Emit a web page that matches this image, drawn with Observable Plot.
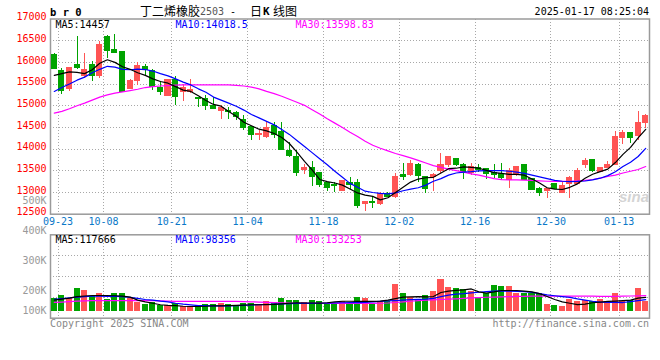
<!DOCTYPE html>
<html><head><meta charset="utf-8">
<script src="https://cdn.jsdelivr.net/npm/d3@7"></script>
<script src="https://cdn.jsdelivr.net/npm/@observablehq/plot@0.6"></script>
<style>
body{margin:0;background:#fff;}
#chart{position:relative;width:660px;height:360px;overflow:hidden;background:#fff;}
#chart svg{position:absolute;left:0;top:0;}
.t{position:absolute;white-space:nowrap;line-height:14px;font-family:"DejaVu Sans Mono",monospace;font-size:10px;}
</style></head><body><div id="chart"></div>
<script>
// ---- data ----
const dates = ["09-20","09-23","09-24","09-25","09-26","09-27","09-30",
"10-08","10-09","10-10","10-11","10-14","10-15","10-16","10-17","10-18","10-21","10-22","10-23","10-24","10-25","10-28","10-29","10-30","10-31",
"11-01","11-04","11-05","11-06","11-07","11-08","11-11","11-12","11-13","11-14","11-15","11-18","11-19","11-20","11-21","11-22","11-25","11-26","11-27","11-28","11-29",
"12-02","12-03","12-04","12-05","12-06","12-09","12-10","12-11","12-12","12-13","12-16","12-17","12-18","12-19","12-20","12-23","12-24","12-25","12-26","12-27","12-30","12-31",
"01-02","01-03","01-06","01-07","01-08","01-09","01-10","01-13","01-14","01-15","01-16"];
const tickDates = ["09-23","10-08","10-21","11-04","11-18","12-02","12-16","12-30","01-13"];
const open = [16175,15810,15387,15946,15678,15939,15678,16590,16283,16237,
15387,15579,15900,15809,15410,15234,15591,15308,15323,15185,
15154,14986,14879,14871,14825,14672,14511,14327,14281,14530,
14404,13967,13829,13508,13569,13447,13224,13170,13040,13209,
13209,12726,12787,12742,12956,12895,13393,13393,13638,13355,
13355,13485,13645,13776,13645,13447,13569,13531,13447,13416,
13293,13408,13638,13300,13086,13033,13201,12988,13186,13201,
13623,13753,13469,13561,13645,14266,14365,14297,14595];
const high = [16200,15850,15877,16590,16199,16015,16490,16610,16651,16250,
15595,16000,15962,15847,15563,15607,15675,15499,15614,15190,
15246,15193,15016,14963,14863,14771,14527,14427,14633,14618,
14618,14143,13967,13645,13722,13460,13240,13239,13278,13339,
13293,12800,12879,13010,13010,13431,13661,13736,13661,13370,
13431,13906,13840,13792,13661,13661,13645,13561,13645,13661,
13546,13600,13650,13330,13125,13100,13215,13240,13370,13546,
13792,13770,13580,13722,14418,14441,14375,14879,14795];
const low = [15830,15250,15326,15831,15617,15556,15617,16092,16210,15295,
15365,15464,15709,15349,15234,15220,15001,15093,15292,14955,
14886,14909,14679,14672,14656,14419,14189,14197,14235,14250,
13980,13799,13377,13415,13140,13117,13033,13010,13025,13071,
12627,12565,12642,12703,12880,12856,13278,13380,13239,12971,
13025,13431,13584,13607,13301,13393,13469,13301,13331,13278,
13086,13377,13290,13050,12918,12860,13060,12975,12857,13190,
13546,13470,13450,13545,13630,14098,14120,14197,14480];
const close = [15845,15350,15862,15870,15824,15694,16398,16268,16222,15326,
15571,15923,15831,15426,15326,15602,15193,15400,15361,15147,
14986,14924,14940,14848,14733,14496,14327,14350,14480,14330,
13990,13852,13454,13562,13355,13163,13110,13140,13255,13178,
12680,12787,12757,12956,12887,13347,13355,13652,13370,13086,
13408,13623,13822,13623,13454,13584,13508,13416,13393,13339,
13492,13584,13293,13065,12988,13086,13071,13147,13331,13485,
13722,13485,13569,13623,14274,14365,14258,14603,14772];
const ma5 = [15700,15740,15780,15770,15740,15830,15980,16060,16000,15900,
15840,15760,15700,15620,15560,15520,15440,15360,15330,15230,
15120,15030,14990,14870,14760,14620,14540,14460,14420,14360,
14270,14130,13930,13720,13520,13300,13250,13220,13170,13080,
12990,12940,12910,12830,12880,13000,13120,13240,13310,13340,
13350,13450,13550,13560,13590,13580,13560,13510,13460,13440,
13420,13420,13400,13310,13220,13110,13080,13070,13120,13200,
13330,13420,13480,13540,13690,13880,14040,14260,14457];
const ma10 = [15330,15420,15500,15590,15660,15760,15840,15910,15890,15840,
15830,15845,15835,15800,15740,15690,15620,15545,15480,15390,
15310,15200,15130,15060,14990,14900,14800,14720,14640,14560,
14450,14340,14200,14060,13920,13780,13640,13490,13350,13210,
13120,13030,13000,12980,12970,12990,13040,13080,13110,13170,
13260,13320,13400,13450,13470,13480,13500,13505,13505,13505,
13490,13470,13440,13400,13360,13320,13280,13260,13250,13255,
13265,13290,13330,13390,13480,13600,13700,13830,14018];
const ma30 = [14830,14870,14930,15000,15060,15130,15200,15250,15290,15320,
15350,15380,15420,15440,15455,15465,15475,15483,15483,15483,
15483,15483,15483,15480,15470,15455,15430,15390,15330,15280,
15220,15150,15080,15010,14910,14810,14700,14600,14500,14390,
14290,14180,14090,14020,13960,13900,13850,13800,13740,13680,
13620,13580,13540,13505,13470,13430,13400,13360,13320,13295,
13290,13290,13285,13280,13270,13260,13255,13255,13260,13270,
13280,13300,13330,13370,13400,13450,13490,13530,13599];
const volume = [111,134,111,197,177,128,151,100,151,151,
111,77,57,71,51,46,66,40,40,51,
57,57,66,57,51,66,66,57,83,71,
111,94,94,71,94,83,63,57,83,57,
120,108,57,80,80,228,151,120,103,134,
168,271,202,194,182,168,120,151,219,211,
211,151,151,151,151,57,48,40,100,83,
94,83,100,83,151,83,91,197,85].map(v => v * 1000);
const vma5 = [95,103,112,125,130,134,134,134,132,128,
120,95,80,68,55,50,47,42,40,40,
42,45,46,48,50,52,55,55,56,58,
63,68,71,70,70,69,72,80,85,85,
83,83,84,86,95,108,120,122,125,123,
125,160,172,178,182,190,165,155,165,177,
177,177,172,165,150,125,100,80,68,56,
60,72,78,83,86,90,95,111,118].map(v => v * 1000);
const vma10 = [102,108,114,120,124,128,128,127,126,125,
118,110,100,94,86,80,68,60,54,48,
47,46,46,46,47,50,53,55,57,60,
62,64,66,67,67,68,69,71,72,73,
74,76,80,84,88,91,95,98,101,103,
110,125,138,145,150,157,162,168,172,174,
172,170,168,160,150,140,132,125,118,105,
95,85,78,76,75,74,82,91,98].map(v => v * 1000);
const vma30 = [75,78,82,86,88,90,90,90,90,90,
90,90,90,90,88,86,84,84,84,84,
84,84,84,84,84,82,80,78,76,74,
72,70,68,68,68,68,67,66,66,66,
66,66,67,68,70,74,80,85,90,94,
97,100,103,106,110,113,116,119,121,123,
125,126,127,128,128,128,128,128,128,128,
128,128,127,127,127,128,130,131,133].map(v => v * 1000);
const priceTicks = [12500,13000,13500,14000,14500,15000,15500,16000,16500,17000];
const volTickLabels = ["100K","200K","300K","400K","500K"];
const volTickValues = [100000,200000,300000,400000,500000];
const priceMaLabels = ["MA5:14457","MA10:14018.5","MA30:13598.83"];
const volMaLabels = ["MA5:117666","MA10:98356","MA30:133253"];
const titleParts = {name:"丁二烯橡胶", code:"2503", sep:"-", kind1:"日", kind2:"K", kind3:"线图"};
const stamp = "2025-01-17 08:25:04";
const symbol = "b r 0";

// ---- styles ----
const MONO = "'DejaVu Sans Mono','Liberation Mono',monospace";
const RED = "#ff5454", GREEN = "#00a300", GRID = "#a8a8a8", AXIS = "#9a9a9a";
const MA_COLORS = ["#000000", "#0000ff", "#ff00ff"];
const bars = dates.map((d, i) => ({i, o: open[i], h: high[i], l: low[i], c: close[i], v: volume[i], up: close[i] >= open[i]}));
const tickIdx = tickDates.map(d => dates.indexOf(d) - 0.5);
const xDomain = [-0.5, dates.length - 0.5];
const half = 0.4;
const colorOf = d => d.up ? RED : GREEN;
const dotted = {stroke: GRID, strokeOpacity: 1, strokeDasharray: "1,2", shapeRendering: "crispEdges"};
const idx = dates.map((d, i) => i);

const chart = document.getElementById("chart");

// price panel
const price = Plot.plot({
  width: 660, height: 360,
  marginLeft: 50, marginRight: 11, marginTop: 18.5, marginBottom: 146.3,
  style: {background: "transparent", fontFamily: MONO, fontSize: "10px"},
  x: {domain: xDomain, axis: null},
  y: {domain: [12500, 17000], axis: null},
  marks: [
    Plot.gridY(priceTicks.slice(1, -1), dotted),
    Plot.gridX(tickIdx, dotted),
    Plot.frame({stroke: AXIS, strokeWidth: 1.5}),
    Plot.ruleX(bars, {x: "i", y1: "l", y2: "h", stroke: colorOf, strokeWidth: 1, shapeRendering: "crispEdges"}),
    Plot.rect(bars, {x1: d => d.i - half, x2: d => d.i + half, y1: "o", y2: "c", fill: colorOf, insetTop: -0.5, insetBottom: -0.5, shapeRendering: "crispEdges"}),
    Plot.line(idx, {x: i => i, y: i => ma30[i], stroke: MA_COLORS[2], strokeWidth: 1.2}),
    Plot.line(idx, {x: i => i, y: i => ma10[i], stroke: MA_COLORS[1], strokeWidth: 1.2}),
    Plot.line(idx, {x: i => i, y: i => ma5[i], stroke: MA_COLORS[0], strokeWidth: 1.2}),
    Plot.axisY(priceTicks, {tickSize: 0, tickPadding: 4, tickFormat: d => String(d), fill: "#ff0000", dy: -2, label: null, fontSize: 10}),
    Plot.axisX(tickIdx, {tickSize: 0, tickPadding: 4, tickFormat: t => dates[Math.round(t + 0.5)], fill: "#0a78c8", label: null, fontSize: 10}),
    ...priceMaLabels.map((s, k) => Plot.text([s], {frameAnchor: "top-left", dx: 5 + 120 * k, dy: 6, text: d => d, textAnchor: "start", lineAnchor: "middle", fill: MA_COLORS[k], fontSize: 10}))
  ]
});

// volume panel
const volDomain = [-60000, 653000];
const volGrid = [1, 2, 3].map(k => volDomain[0] + (volDomain[1] - volDomain[0]) * k / 4);
const vol = Plot.plot({
  width: 660, height: 360,
  marginLeft: 50, marginRight: 11, marginTop: 234.3, marginBottom: 42.3,
  style: {background: "transparent", fontFamily: MONO, fontSize: "10px"},
  x: {domain: xDomain, axis: null},
  y: {domain: volDomain, axis: null},
  marks: [
    Plot.gridY(volGrid, dotted),
    Plot.gridX(tickIdx, dotted),
    Plot.frame({stroke: AXIS, strokeWidth: 1.5}),
    Plot.rect(bars, {x1: d => d.i - half, x2: d => d.i + half, y1: 0, y2: "v", fill: colorOf, shapeRendering: "crispEdges"}),
    Plot.line(idx, {x: i => i, y: i => vma30[i], stroke: MA_COLORS[2], strokeWidth: 1.2}),
    Plot.line(idx, {x: i => i, y: i => vma10[i], stroke: MA_COLORS[1], strokeWidth: 1.2}),
    Plot.line(idx, {x: i => i, y: i => vma5[i], stroke: MA_COLORS[0], strokeWidth: 1.2}),
    ...volMaLabels.map((s, k) => Plot.text([s], {frameAnchor: "top-left", dx: 5 + 120 * k, dy: 4.5, text: d => d, textAnchor: "start", lineAnchor: "middle", fill: MA_COLORS[k], fontSize: 10}))
  ]
});

// volume axis labels: Sina spaces them ~30px per 100K and clamps the lowest one
const volAxis = Plot.plot({
  width: 660, height: 360, marginLeft: 50, marginRight: 11,
  style: {background: "transparent", fontFamily: MONO, fontSize: "10px"},
  x: {domain: [0, 1], axis: null},
  y: {domain: [132850, 500000], range: [310, 200.7], clamp: true, axis: null},
  marks: [
    Plot.axisY(volTickValues, {tickSize: 0, tickPadding: 4, fill: "#999999", label: null, tickFormat: v => volTickLabels[volTickValues.indexOf(v)], fontSize: 10})
  ]
});

chart.append(price, vol, volAxis);

// header / footer text
function addText(txt, css) {
  const el = document.createElement("div");
  el.className = "t";
  el.textContent = txt;
  Object.assign(el.style, css);
  chart.append(el);
  return el;
}
addText(symbol, {left: "50px", top: "5px", fontWeight: "bold", fontSize: "10.5px"});
addText(titleParts.name, {left: "140px", top: "4px", fontFamily: "'Noto Sans CJK SC',sans-serif", fontSize: "12px"});
addText(titleParts.code, {left: "200px", top: "5px", color: "#555", fontSize: "10px"});
addText(titleParts.sep, {left: "230px", top: "5px", fontSize: "10px"});
addText(titleParts.kind1, {left: "250px", top: "4px", fontFamily: "'Noto Sans CJK SC',sans-serif", fontSize: "12px"});
addText(titleParts.kind2, {left: "263px", top: "5px", fontWeight: "bold", fontSize: "11px"});
addText(titleParts.kind3, {left: "273px", top: "4px", fontFamily: "'Noto Sans CJK SC',sans-serif", fontSize: "12px"});
const st = addText(stamp, {top: "5px", fontSize: "10px"});
st.style.right = "11px";
addText("Copyright 2025 SINA.COM", {left: "50px", top: "317px", color: "#888"});
const url = addText("http://finance.sina.com.cn", {top: "317px", color: "#888"});
url.style.right = "11px";
addText("sina", {left: "619px", top: "190px", fontFamily: "Arial,'Liberation Sans',sans-serif", fontStyle: "italic", fontWeight: "bold", fontSize: "15px", color: "#d4d4d4"});
</script></body></html>
